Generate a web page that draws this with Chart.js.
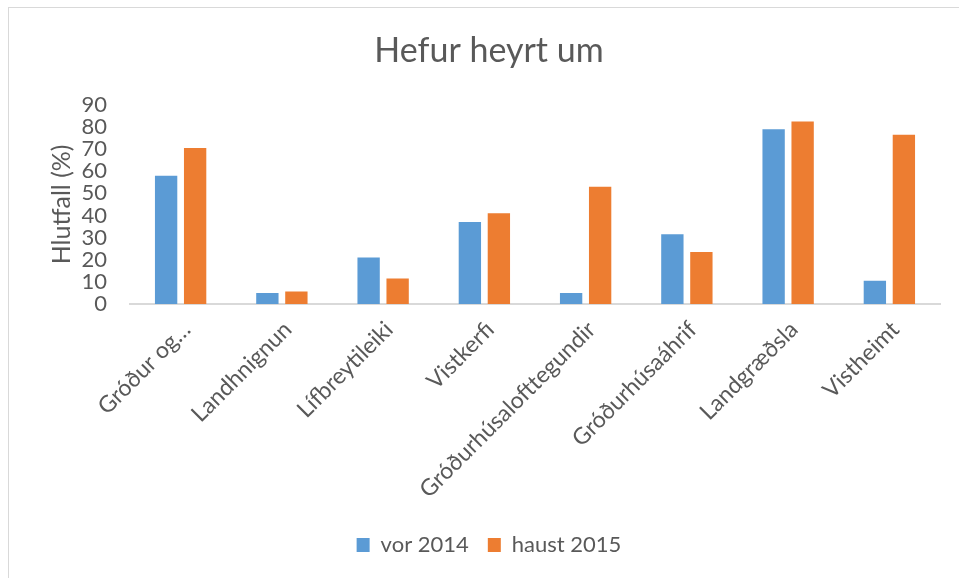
<!DOCTYPE html>
<html>
<head>
<meta charset="utf-8">
<script src="https://cdn.jsdelivr.net/npm/chart.js@4.4.1/dist/chart.umd.min.js"></script>
<style>
  html, body { margin: 0; padding: 0; background: #ffffff; }
  #wrap { position: relative; width: 959px; height: 578px; overflow: hidden; }
  #frame { position: absolute; left: 8px; top: 7px; width: 1000px; height: 1000px; border: 1px solid #d9d9d9; box-sizing: border-box; }
  canvas { position: absolute; left: 0; top: 0; }
</style>
</head>
<body>
<div id="wrap">
  <div id="frame"></div>
  <canvas id="c" width="959" height="578"></canvas>
</div>
<script>
const categories = ["Gróður og…", "Landhnignun", "Lífbreytileiki", "Vistkerfi", "Gróðurhúsalofttegundir", "Gróðurhúsaáhrif", "Landgræðsla", "Vistheimt"];
const vor2014 = [58, 5, 21, 37, 5, 31.5, 79, 10.5];
const haust2015 = [70.5, 5.7, 11.5, 41, 53, 23.5, 82.5, 76.5];
const seriesNames = ["vor 2014", "haust 2015"];
const titleText = "Hefur heyrt um";
const yTitle = "Hlutfall (%)";

const FONT = "Lato";
const TXT = "#595959";

new Chart(document.getElementById("c"), {
  type: "bar",
  data: {
    labels: categories,
    datasets: [
      { label: seriesNames[0], data: vor2014, backgroundColor: "#5b9bd5", categoryPercentage: 0.573, barPercentage: 0.77 },
      { label: seriesNames[1], data: haust2015, backgroundColor: "#ed7d31", categoryPercentage: 0.573, barPercentage: 0.77 }
    ]
  },
  options: {
    responsive: false,
    animation: false,
    devicePixelRatio: 1,
    layout: { padding: { left: 38, right: 19, top: 0, bottom: 12 } },
    plugins: {
      title: {
        display: true, text: titleText, color: TXT,
        font: { family: FONT, size: 34, weight: "normal" },
        padding: { top: 31, bottom: 33 }
      },
      legend: {
        position: "bottom",
        labels: {
          color: TXT, font: { family: FONT, size: 22 },
          boxWidth: 13, boxHeight: 14, padding: 19
        }
      },
      tooltip: { enabled: false }
    },
    scales: {
      x: {
        grid: { display: false, drawTicks: false, tickLength: 0 },
        border: { display: true, color: "#d9d9d9", width: 2 },
        ticks: { color: TXT, font: { family: FONT, size: 23 }, maxRotation: 45, minRotation: 45, padding: 12, labelOffset: 6, autoSkip: false },
        afterFit: (s) => { s.height = 211; }
      },
      y: {
        min: 0, max: 90,
        grid: { display: false, drawTicks: false, tickLength: 0 },
        border: { display: false },
        ticks: { stepSize: 10, autoSkip: false, color: TXT, font: { family: FONT, size: 22 }, padding: 23 },
        title: { display: true, text: yTitle, color: TXT, font: { family: FONT, size: 25 }, padding: { top: 9, bottom: 0 } },
        afterFit: (s) => { s.width = 92; }
      }
    }
  }
});
</script>
</body>
</html>
